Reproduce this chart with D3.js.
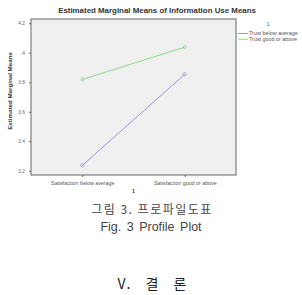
<!DOCTYPE html>
<html>
<head>
<meta charset="utf-8">
<script src="https://cdn.jsdelivr.net/npm/d3@7"></script>
<style>
  body { margin: 0; background: #fff; }
  svg { display: block; }
</style>
</head>
<body>
<div id="chart"></div>
<script>
// categories on the x axis and the two trust groups
var categories = ['Satisfaction below average', 'Satisfaction good or above'];
var seriesNames = ['Trust below average', 'Trust good or above'];
var trustBelow = [3.236, 3.854];
var trustGood = [3.819, 4.038];
var yTicks = [3.2, 3.4, 3.6, 3.8, 4, 4.2];
var colors = ['#8a8ad6', '#7fd67f'];

var W = 302, H = 295;
var margin = { left: 31, top: 19, right: 66, bottom: 120 };
var pw = W - margin.left - margin.right;
var ph = H - margin.top - margin.bottom;

var svg = d3.select('#chart').append('svg')
  .attr('width', W)
  .attr('height', H)
  .style('font-family', 'Arial, "Liberation Sans", sans-serif');

// title
svg.append('text')
  .attr('x', 157).attr('y', 12.5)
  .attr('text-anchor', 'middle')
  .style('font-size', '7.9px')
  .style('font-weight', 'bold')
  .attr('fill', '#333')
  .text('Estimated Marginal Means of Information Use Means');

var g = svg.append('g')
  .attr('transform', 'translate(' + margin.left + ',' + margin.top + ')');

var x = d3.scalePoint().domain(categories).range([0, pw]).padding(0.5);
var y = d3.scaleLinear().domain([3.171, 4.229]).range([ph, 0]);

g.append('rect')
  .attr('width', pw).attr('height', ph)
  .attr('fill', '#f0f0f0')
  .attr('stroke', '#666').attr('stroke-width', 1);

var gy = g.append('g').call(d3.axisLeft(y).tickValues(yTicks).tickSizeInner(2).tickSizeOuter(0)
  .tickFormat(function (d) { return d3.format('')(d); }));
gy.select('.domain').remove();
gy.selectAll('line').attr('stroke', '#666');
gy.selectAll('text').style('font-size', '4.8px').attr('fill', '#666').attr('dx', '-1');

var gx = g.append('g').attr('transform', 'translate(0,' + ph + ')')
  .call(d3.axisBottom(x).tickSizeInner(2).tickSizeOuter(0));
gx.select('.domain').remove();
gx.selectAll('line').attr('stroke', '#666');
gx.selectAll('text').style('font-size', '5.3px').attr('fill', '#555').attr('dy', '0.85em');

// axis titles
svg.append('text')
  .attr('transform', 'translate(12,' + (margin.top + ph / 2 - 6) + ') rotate(-90)')
  .attr('text-anchor', 'middle')
  .style('font-size', '6.2px').style('font-weight', 'bold')
  .attr('fill', '#333')
  .text('Estimated Marginal Means');
svg.append('text')
  .attr('x', margin.left + pw / 2).attr('y', 193)
  .attr('text-anchor', 'middle')
  .style('font-size', '5px').style('font-weight', 'bold')
  .attr('fill', '#333')
  .text('1');

var series = [trustBelow, trustGood];
var line = d3.line()
  .x(function (d, i) { return x(categories[i]); })
  .y(function (d) { return y(d); });

series.forEach(function (s, k) {
  g.append('path')
    .attr('d', line(s))
    .attr('fill', 'none')
    .attr('stroke', colors[k])
    .attr('stroke-width', 0.9);
  g.selectAll('.pt' + k).data(s).enter().append('circle')
    .attr('cx', function (d, i) { return x(categories[i]); })
    .attr('cy', function (d) { return y(d); })
    .attr('r', 1.6)
    .attr('fill', 'none')
    .attr('stroke', colors[k])
    .attr('stroke-width', 0.7);
});

// legend
var lg = svg.append('g').attr('transform', 'translate(238,0)');
lg.append('text').attr('x', 30).attr('y', 26)
  .attr('text-anchor', 'middle')
  .style('font-size', '4.8px').attr('fill', '#555').text('1');
seriesNames.forEach(function (n, k) {
  var yy = 33.5 + k * 5.7;
  lg.append('line').attr('x1', 0).attr('x2', 10).attr('y1', yy).attr('y2', yy)
    .attr('stroke', colors[k]).attr('stroke-width', 0.9);
  lg.append('text').attr('x', 11).attr('y', yy).attr('dy', '0.35em')
    .style('font-size', '5.4px').attr('fill', '#555').text(n);
});

// captions below the figure
svg.append('text').attr('x', 152).attr('y', 214)
  .attr('text-anchor', 'middle')
  .style('font-family', '"Noto Sans CJK KR", sans-serif')
  .style('font-size', '12px').style('letter-spacing', '1.5px').attr('fill', '#444')
  .text('그림 3. 프로파일도표');
svg.append('text').attr('x', 151).attr('y', 231)
  .attr('text-anchor', 'middle')
  .style('font-family', '"Liberation Sans", Arial, sans-serif')
  .style('font-size', '12.5px').style('word-spacing', '2px').attr('fill', '#444')
  .text('Fig. 3 Profile Plot');
svg.append('text').attr('x', 153).attr('y', 289)
  .attr('text-anchor', 'middle')
  .style('font-family', '"Noto Sans CJK KR", sans-serif')
  .style('font-size', '14px').style('letter-spacing', '2px').style('word-spacing', '8px')
  .attr('fill', '#222')
  .text('V. 결 론');
</script>
</body>
</html>
